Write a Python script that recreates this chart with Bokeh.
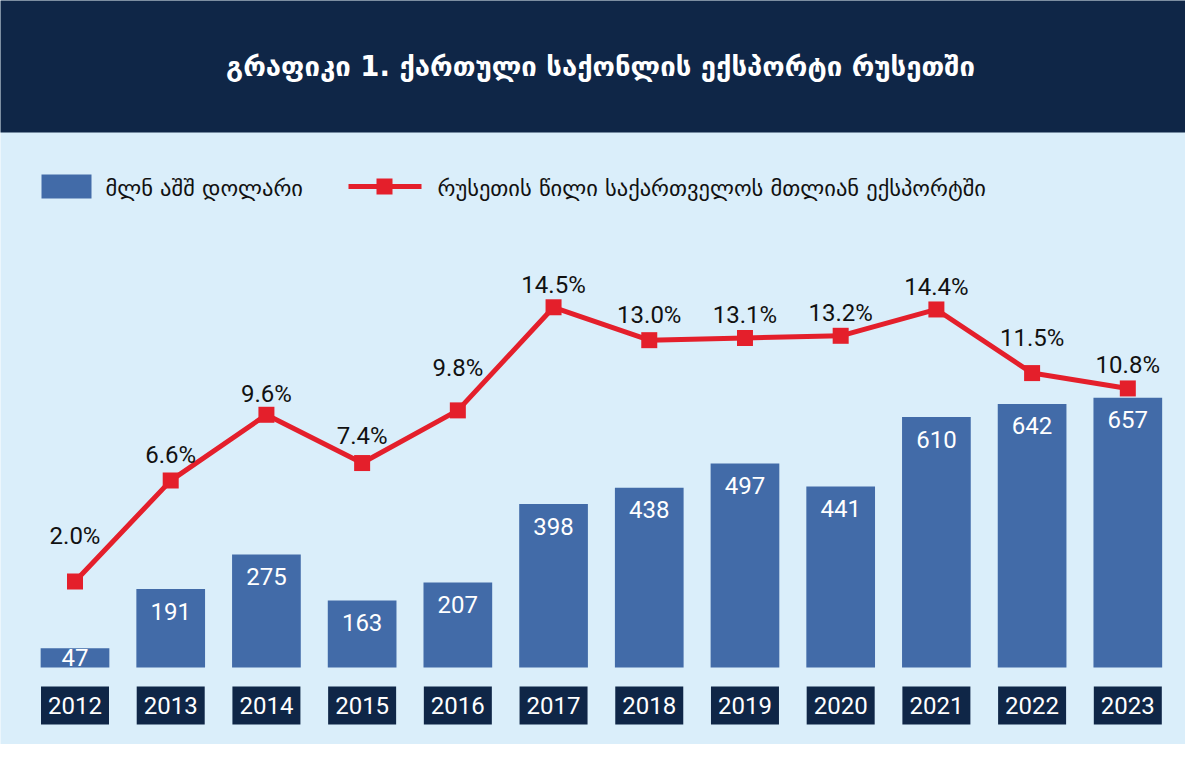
from bokeh.plotting import figure
from bokeh.models import Range1d
from bokeh.core.properties import value
from bokeh.embed import file_html
from bokeh.resources import INLINE

years = [2012, 2013, 2014, 2015, 2016, 2017, 2018, 2019, 2020, 2021, 2022, 2023]
export_musd = [47, 191, 275, 163, 207, 398, 438, 497, 441, 610, 642, 657]
russia_share = [2.0, 6.6, 9.6, 7.4, 9.8, 14.5, 13.0, 13.1, 13.2, 14.4, 11.5, 10.8]
year_labels = [str(y) for y in years]
export_labels = [str(v) for v in export_musd]
share_labels = [f"{v:.1f}%" for v in russia_share]

title_text = "გრაფიკი 1. ქართული საქონლის ექსპორტი რუსეთში"
legend_bars = "მლნ აშშ დოლარი"
legend_line = "რუსეთის წილი საქართველოს მთლიან ექსპორტში"

# how far (px) each percent label sits above its marker
share_lift = [46, 26, 21, 27, 42, 22, 25, 23, 23, 22, 35, 23]

NAVY = "#0f2647"
BLUE = "#426ba8"
RED = "#e41f2b"
BG = "#daeefa"
NUM_FONT = "Roboto"
GEO_FONT = "DejaVu Sans"

# page geometry in pixels of the 1201x760 design
W, H = 1185, 744
PX_YEAR = 95.71      # px between bar centres
PX_USD = 0.4105      # px per million USD
PX_PCT = 21.94       # px per percentage point
BASE_Y = 667         # screen y of the bar baseline
PCT_ZERO_Y = 624.9   # screen y of 0 %
FIRST_X = 74.5       # screen x of the first bar centre

x_start = years[0] - FIRST_X / PX_YEAR
x_end = x_start + W / PX_YEAR


def sx(px):
    return x_start + px / PX_YEAR


def sy(py):
    return (BASE_Y - py) / PX_USD


p = figure(width=W, height=H, output_backend="svg", toolbar_location=None,
           x_range=Range1d(x_start, x_end),
           y_range=Range1d(sy(H), sy(0)),
           min_border=0, background_fill_color=BG, border_fill_color=BG)
p.extra_y_ranges = {"pct": Range1d(-(H - PCT_ZERO_Y) / PX_PCT,
                                   PCT_ZERO_Y / PX_PCT)}
p.axis.visible = False
p.grid.visible = False
p.outline_line_color = None

# title band
p.quad(left=x_start - 1, right=x_end + 1, bottom=sy(132), top=sy(-20),
       fill_color=NAVY, line_color=None)
p.text(x=[sx(600)], y=[sy(65)], text=[title_text], text_color="white",
       text_font=value(GEO_FONT), text_font_style="bold", text_font_size="27.5px",
       text_align="center", text_baseline="middle")

# legend
p.quad(left=sx(41), right=sx(91), bottom=sy(198), top=sy(174),
       fill_color=BLUE, line_color=None)
p.text(x=[sx(105)], y=[sy(187)], text=[legend_bars], text_color="#111111",
       text_font=value(GEO_FONT), text_font_size="22.5px",
       text_align="left", text_baseline="middle")
p.line(x=[sx(348), sx(421)], y=[sy(186), sy(186)], line_color=RED, line_width=5)
p.scatter(x=[sx(384)], y=[sy(186)], marker="square", size=16,
          fill_color=RED, line_color=None)
p.text(x=[sx(437)], y=[sy(187)], text=[legend_line], text_color="#111111",
       text_font=value(GEO_FONT), text_font_size="22.5px",
       text_align="left", text_baseline="middle")

# bars and their values
p.vbar(x=years, top=export_musd, bottom=0, width=68.7 / PX_YEAR,
       fill_color=BLUE, line_color=None)
value_y = [v - 22 / PX_USD if v * PX_USD > 44 else v / 2 for v in export_musd]
p.text(x=years, y=value_y, text=export_labels, text_color="white",
       text_font=value(NUM_FONT), text_font_size="24px",
       text_align="center", text_baseline="middle")

# year boxes
p.vbar(x=years, top=sy(686), bottom=sy(724), width=68 / PX_YEAR,
       fill_color=NAVY, line_color=None)
p.text(x=years, y=[sy(705)] * len(years), text=year_labels, text_color="white",
       text_font=value(NUM_FONT), text_font_size="24px",
       text_align="center", text_baseline="middle")

# Russia's share line
p.line(x=years, y=russia_share, y_range_name="pct", line_color=RED, line_width=5)
p.scatter(x=years, y=russia_share, y_range_name="pct", marker="square", size=16,
          fill_color=RED, line_color=None)
label_y = [v + lift / PX_PCT for v, lift in zip(russia_share, share_lift)]
p.text(x=years, y=label_y, y_range_name="pct", text=share_labels,
       text_color="#111111", text_font=value(NUM_FONT), text_font_size="24px",
       text_align="center", text_baseline="middle")

open("out.html", "w").write(file_html(p, INLINE))
